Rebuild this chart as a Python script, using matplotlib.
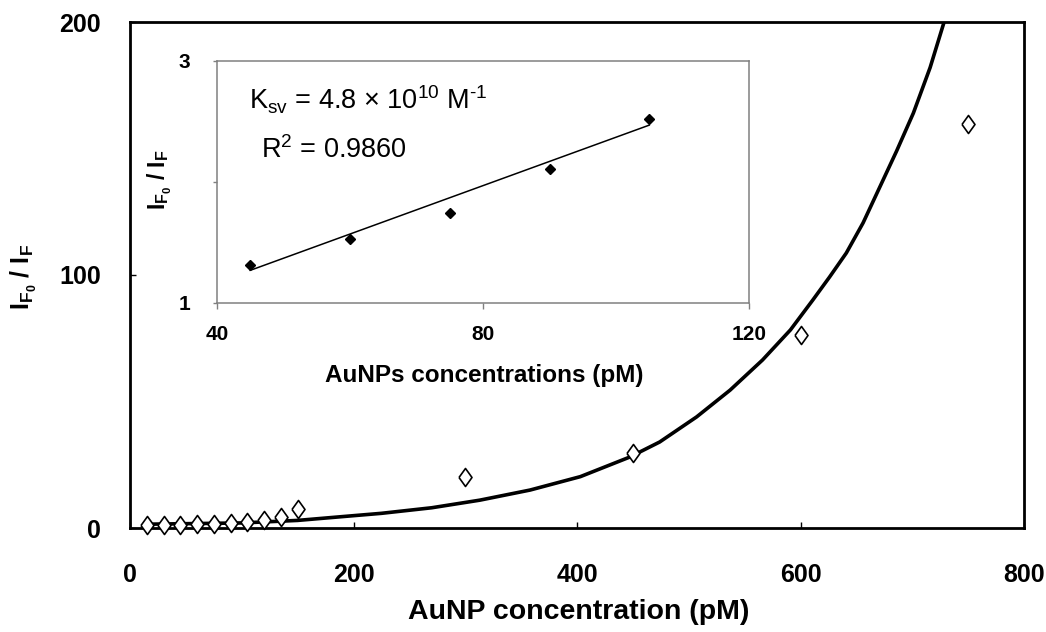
import numpy as np
import matplotlib
matplotlib.use("Agg")
import matplotlib.pyplot as plt

plt.rcParams['font.family'] = ['Liberation Sans', 'DejaVu Sans']
plt.rcParams['mathtext.fontset'] = 'custom'
plt.rcParams['mathtext.rm'] = 'Liberation Sans'
plt.rcParams['mathtext.it'] = 'Liberation Sans:italic'
plt.rcParams['mathtext.bf'] = 'Liberation Sans:bold'

# ---- main data ----
conc = [15, 30, 45, 60, 75, 90, 105, 120, 135, 150, 300, 450, 600, 750]
ratio = [1.0, 1.1, 1.3, 1.5, 1.7, 2.1, 2.5, 3.3, 4.2, 7.4, 20.0, 29.5, 76.3, 159.7]

curve_x = [15, 100, 150, 190, 225, 270, 313, 358, 403, 447, 474, 507, 537,
           566, 591, 611, 626, 641, 656, 671, 686, 701, 716, 728.5]
curve_y = [1.5, 2.0, 3.0, 4.5, 5.8, 8.0, 11.0, 15.0, 20.3, 28.0, 34.0, 43.9,
           54.5, 66.4, 78.3, 90.1, 99.2, 108.7, 120.6, 134.8, 149.0, 164.0,
           182.0, 200.0]

main_xticks = [0, 200, 400, 600, 800]
main_yticks = [0, 100, 200]

# ---- inset data ----
in_x = [45, 60, 75, 90, 105]
in_y = [1.31, 1.53, 1.74, 2.11, 2.52]
fit_x = [45, 105]
fit_y = [1.27, 2.47]
in_xticks = [40, 80, 120]
in_yticks = [1, 2, 3]
in_yticklabels = ['1', '', '3']

W, H = 1046, 632
fig = plt.figure(figsize=(W / 100, H / 100), dpi=100)

def rect(l, t, r, b):
    return [l / W, 1 - b / H, (r - l) / W, (b - t) / H]

ax = fig.add_axes(rect(130, 22, 1024, 528))
diamond = [(-0.72, 0), (0, 1), (0.72, 0), (0, -1), (-0.72, 0)]
ax.plot(curve_x, curve_y, color='black', lw=2.6, zorder=3,
        solid_joinstyle='round', solid_capstyle='round')
ax.plot(conc, ratio, linestyle='none', marker=diamond, markersize=13,
        markerfacecolor='white', markeredgecolor='black', markeredgewidth=1.2,
        zorder=4, clip_on=False)
ax.set_xlim(0, 800)
ax.set_ylim(0, 200)
ax.set_xticks(main_xticks)
ax.set_yticks(main_yticks)
ax.set_xticklabels([str(v) for v in main_xticks], fontsize=18, fontweight='bold')
ax.set_yticklabels([str(v) for v in main_yticks], fontsize=18, fontweight='bold')
ax.tick_params(axis='x', direction='in', length=4, width=1, pad=25)
ax.tick_params(axis='y', direction='in', length=4, width=1, pad=21)
for s in ax.spines.values():
    s.set_linewidth(2.0)
    s.set_color('black')

fig.text(579 / W, 1 - 612 / H, 'AuNP concentration (pM)', fontsize=20.5,
         fontweight='bold', ha='center', va='center')
fig.text(24 / W, 1 - 277 / H, r'$\mathbf{I_{F_0}\ /\ I_F}$', fontsize=18,
         rotation=90, ha='center', va='center')

# ---- inset ----
ins = fig.add_axes(rect(217, 61, 749, 303))
ins.plot(fit_x, fit_y, color='black', lw=1.1, zorder=3)
ins.plot(in_x, in_y, linestyle='none', marker='D', markersize=5.5,
         color='black', zorder=4)
ins.set_xlim(40, 120)
ins.set_ylim(1, 3)
ins.set_xticks(in_xticks)
ins.set_yticks(in_yticks)
ins.set_xticklabels([str(v) for v in in_xticks], fontsize=15, fontweight='bold')
ins.set_yticklabels(in_yticklabels, fontsize=15, fontweight='bold')
ins.tick_params(axis='x', direction='out', length=4, width=1, pad=12, color='#808080')
ins.tick_params(axis='y', direction='out', length=3, width=1, pad=16, color='#808080')
for s in ins.spines.values():
    s.set_linewidth(1.1)
    s.set_color('#808080')

fig.text(484 / W, 1 - 375 / H, 'AuNPs concentrations (pM)', fontsize=17.5,
         fontweight='bold', ha='center', va='center')
fig.text(160 / W, 1 - 180 / H, r'$\mathbf{I_{F_0}\ /\ I_F}$', fontsize=16.5,
         rotation=90, ha='center', va='center')

fig.text(249 / W, 1 - 100 / H, r'K$_{\rm sv}$ = 4.8 × 10$^{10}$ M$^{\text{-1}}$',
         fontsize=19.5, ha='left', va='center')
fig.text(261 / W, 1 - 150 / H, r'R$^{2}$ = 0.9860',
         fontsize=19.5, ha='left', va='center')

fig.savefig('out.png', dpi=100)
